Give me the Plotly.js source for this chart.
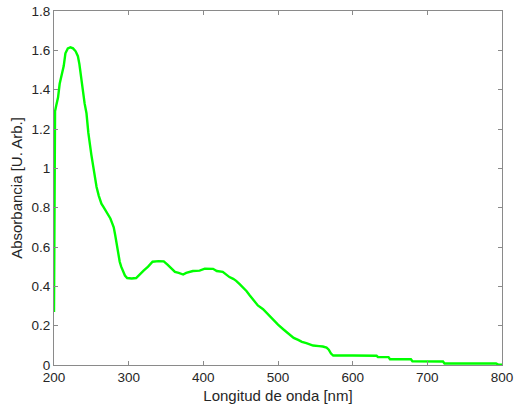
<!DOCTYPE html>
<html>
<head>
<meta charset="utf-8">
<script src="https://cdn.plot.ly/plotly-3.0.1.min.js"></script>
<style>html,body{margin:0;padding:0;background:#fff;}#chart{width:515px;height:412px;}</style>
</head>
<body>
<div id="chart"></div>
<script>
var wavelength = [200, 200.3, 200.6, 201, 201.4, 203, 205.4, 207.6, 209.5, 211, 213, 215.3, 218.5, 222, 225.5, 229, 232, 234, 236, 238, 241, 243.5, 246, 250, 253, 257, 260, 263.5, 266, 269, 272, 275.5, 278, 280, 282, 284, 286, 288, 290, 292.5, 295, 298, 304, 310, 315, 320, 326, 332, 340, 347, 352, 357, 362, 367, 373, 377, 380, 386, 395, 402, 413, 418, 426, 431, 435, 440, 444, 449, 453, 458, 462, 467, 473, 480, 486, 493, 500, 507, 512, 516, 521, 527, 532, 538, 547, 555, 560, 565, 568, 571, 574, 600, 632, 634, 648, 650, 678, 680, 721, 723, 792, 795, 800];
var absorbance = [0.27, 0.6, 1.0, 1.22, 1.29, 1.32, 1.36, 1.43, 1.46, 1.48, 1.52, 1.585, 1.61, 1.615, 1.61, 1.595, 1.57, 1.53, 1.465, 1.415, 1.33, 1.28, 1.18, 1.07, 0.99, 0.905, 0.86, 0.82, 0.805, 0.787, 0.77, 0.745, 0.72, 0.70, 0.66, 0.61, 0.56, 0.525, 0.50, 0.475, 0.455, 0.442, 0.440, 0.442, 0.462, 0.48, 0.50, 0.525, 0.528, 0.527, 0.51, 0.49, 0.473, 0.468, 0.46, 0.468, 0.472, 0.478, 0.48, 0.49, 0.489, 0.478, 0.474, 0.46, 0.447, 0.438, 0.428, 0.41, 0.395, 0.375, 0.355, 0.33, 0.303, 0.284, 0.26, 0.228, 0.205, 0.182, 0.165, 0.15, 0.138, 0.128, 0.118, 0.111, 0.099, 0.096, 0.094, 0.088, 0.078, 0.058, 0.048, 0.048, 0.047, 0.040, 0.040, 0.029, 0.029, 0.019, 0.018, 0.008, 0.008, 0.002, 0.002];
var xTicks = [200, 300, 400, 500, 600, 700, 800];
var yTicks = [0, 0.2, 0.4, 0.6, 0.8, 1, 1.2, 1.4, 1.6, 1.8];

var font = {family: 'Liberation Sans, Arial, sans-serif', size: 13.5, color: '#262626'};
var titleFont = {family: 'Liberation Sans, Arial, sans-serif', size: 15, color: '#262626'};
var trace = {
  x: wavelength, y: absorbance, type: 'scatter', mode: 'lines',
  line: {color: '#00ff00', width: 2.4}, hoverinfo: 'skip'
};
var axisCommon = {
  showline: true, linecolor: '#8a8a8a', linewidth: 1, mirror: 'ticks',
  ticks: 'inside', ticklen: 4, tickcolor: '#8a8a8a', showgrid: false, zeroline: false,
  tickfont: font
};
var layout = {
  width: 515, height: 412,
  margin: {l: 54, r: 13, t: 11, b: 47},
  paper_bgcolor: '#ffffff', plot_bgcolor: '#ffffff',
  showlegend: false,
  font: font,
  xaxis: Object.assign({}, axisCommon, {
    range: [200, 800], tickvals: xTicks,
    title: {text: 'Longitud de onda [nm]', font: titleFont, standoff: 6}
  }),
  yaxis: Object.assign({}, axisCommon, {
    range: [0, 1.8], tickvals: yTicks,
    title: {text: 'Absorbancia [U. Arb.]', font: titleFont, standoff: 5}
  })
};
Plotly.newPlot('chart', [trace], layout, {displayModeBar: false, staticPlot: true});
</script>
</body>
</html>
